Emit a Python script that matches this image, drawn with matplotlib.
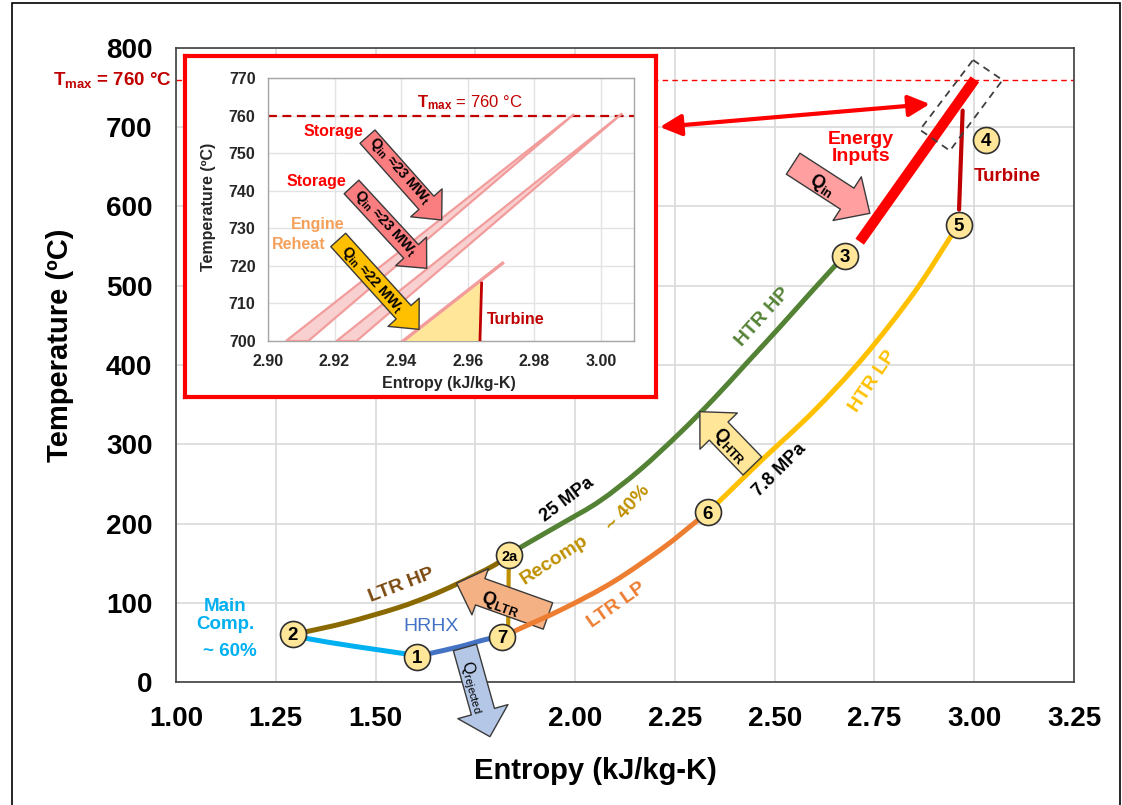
import numpy as np
import matplotlib
matplotlib.use("Agg")
import matplotlib.pyplot as plt
from matplotlib.patches import FancyArrowPatch, Polygon, ArrowStyle, Rectangle, PathPatch
from matplotlib.path import Path
from matplotlib.transforms import blended_transform_factory

plt.rcParams['font.family'] = ['Liberation Sans', 'DejaVu Sans']
plt.rcParams['mathtext.fontset'] = 'custom'
plt.rcParams['mathtext.rm'] = 'Liberation Sans'
plt.rcParams['mathtext.it'] = 'Liberation Sans:italic'
plt.rcParams['mathtext.bf'] = 'Liberation Sans:bold'

W, H, DPI = 1122, 805, 100
PX = 72.0 / DPI  # points per pixel

# ---------------- cycle data: entropy (kJ/kg-K), temperature (°C) ----------------
state_labels = ['1', '2', '2a', '3', '4', '5', '6', '7']
state_s = [1.603, 1.292, 1.835, 2.675, 3.029, 2.962, 2.333, 1.818]
state_T = [32, 61, 160, 538, 684, 577, 214.5, 57]

main_comp_s = [1.292, 1.327, 1.452, 1.569, 1.603]
main_comp_T = [60.6, 55.0, 44.6, 36.0, 32.0]

hrhx_s = [1.603, 1.636, 1.711, 1.778, 1.818]
hrhx_T = [32.0, 36.0, 44.6, 53.9, 57.0]

ltr_hp_s = [1.292, 1.328, 1.428, 1.554, 1.636, 1.704, 1.794, 1.834]
ltr_hp_T = [60.6, 63.7, 75.1, 93.4, 108.5, 123.7, 146.4, 160.3]

recomp_s = [1.832, 1.834]
recomp_T = [56.4, 160.0]

htr_hp_s = [1.834, 1.869, 1.969, 2.062, 2.162, 2.2625, 2.347, 2.430, 2.513, 2.596, 2.676]
htr_hp_T = [160.3, 171.6, 200.6, 228.4, 267.5, 314.2, 357.1, 402.5, 447.9, 494.6, 538.8]

ltr_lp_s = [1.819, 1.854, 1.969, 2.095, 2.220, 2.305, 2.333]
ltr_lp_T = [56.8, 65.6, 92.1, 126.2, 169.1, 203.2, 214.5]

htr_lp_s = [2.333, 2.375, 2.4705, 2.596, 2.721, 2.847, 2.939, 2.961]
htr_lp_T = [214.5, 234.7, 281.4, 340.7, 408.8, 489.6, 560.3, 576.7]

heat_in_s = [2.713, 3.0015]
heat_in_T = [555.6, 760.5]

turbine_s = [2.971, 2.962]
turbine_T = [721.0, 596.0]

T_max = 760

# ---------------- inset (zoom near T_max) ----------------
storage1_s = [2.9054, 2.9920, 2.9121]
storage1_T = [700, 760.4, 700]
storage2_s = [2.9206, 3.0065, 2.9266]
storage2_T = [700, 760.6, 700]
reheat_line_s = [2.9406, 2.9705]
reheat_line_T = [700, 720.7]
reheat_fill_s = [2.9406, 2.9641, 2.9637]
reheat_fill_T = [700, 715.8, 700]
inset_turb_s = [2.9642, 2.9637]
inset_turb_T = [715.4, 700]

x_ticks = [1.00, 1.25, 1.50, 1.75, 2.00, 2.25, 2.50, 2.75, 3.00, 3.25]
x_tick_labels = ['1.00', '1.25', '1.50', '', '2.00', '2.25', '2.50', '2.75', '3.00', '3.25']
y_ticks = [0, 100, 200, 300, 400, 500, 600, 700, 800]
inset_x_ticks = [2.90, 2.92, 2.94, 2.96, 2.98, 3.00]
inset_y_ticks = [700, 710, 720, 730, 740, 750, 760, 770]

# colours
C_MAIN = '#00B0F0'
C_HRHX = '#4472C4'
C_LTRHP = '#8A6A00'
C_RECOMP = '#BF9000'
C_HTRHP = '#548235'
C_LTRLP = '#ED7D31'
C_HTRLP = '#FFC000'
C_RED = '#FF0000'
C_DARKRED = '#C00000'
C_STATE = '#FFE699'

fig = plt.figure(figsize=(W / DPI, H / DPI), dpi=DPI)
fig.patch.set_facecolor('white')


def fig_box(x0, y0, x1, y1):
    return [x0 / W, 1 - y1 / H, (x1 - x0) / W, (y1 - y0) / H]


def smooth_curve(axis, xs, ys, color, lw, z):
    """Draw a smoothed line (cubic Bezier segments) through the given points."""
    pts = np.column_stack([xs, ys]).astype(float)
    ext = np.vstack([pts[0], pts, pts[-1]])
    verts = [tuple(pts[0])]
    codes = [Path.MOVETO]
    for i in range(len(pts) - 1):
        p0, p1, p2, p3 = ext[i], ext[i + 1], ext[i + 2], ext[i + 3]
        c1 = p1 + (p2 - p0) / 6.0
        c2 = p2 - (p3 - p1) / 6.0
        verts += [tuple(c1), tuple(c2), tuple(p2)]
        codes += [Path.CURVE4] * 3
    axis.add_patch(PathPatch(Path(verts, codes), fill=False, ec=color, lw=lw,
                             capstyle='round', joinstyle='round', zorder=z))


ax = fig.add_axes(fig_box(176, 48, 1074, 682))
ax.set_xlim(1.0, 3.25)
ax.set_ylim(0, 800)
ax.set_xticks(x_ticks)
ax.set_xticklabels(x_tick_labels)
ax.set_yticks(y_ticks)
ax.set_yticklabels([str(v) for v in y_ticks])
ax.tick_params(length=0, labelsize=20, pad=17)
for lab in ax.get_xticklabels() + ax.get_yticklabels():
    lab.set_fontweight('bold')
ax.grid(True, color='#D9D9D9', lw=1.2)
ax.set_axisbelow(True)
for sp in ax.spines.values():
    sp.set_color('#404040')
    sp.set_linewidth(1.2)

fig.text(60 / W, 1 - 345 / H, 'Temperature (ºC)', rotation=90, ha='center', va='center',
         fontsize=21, fontweight='bold')
fig.text(595 / W, 1 - 771 / H, 'Entropy (kJ/kg-K)', ha='center', va='center',
         fontsize=21, fontweight='bold')

# T_max line and its label
ax.axhline(T_max, color=C_RED, lw=1.0, ls=(0, (4, 3)), zorder=2)
ax.text(-0.005, T_max, r'$\mathbf{T_{max}}$ = 760 °C',
        transform=blended_transform_factory(ax.transAxes, ax.transData),
        ha='right', va='center', fontsize=13.5, fontweight='bold', color=C_DARKRED)

# process curves
lw = 3.6
smooth_curve(ax, main_comp_s, main_comp_T, C_MAIN, lw, 3)
smooth_curve(ax, hrhx_s, hrhx_T, C_HRHX, lw, 3)
smooth_curve(ax, ltr_hp_s, ltr_hp_T, C_LTRHP, lw, 3)
ax.plot(recomp_s, recomp_T, color=C_RECOMP, lw=3.0, zorder=3)
smooth_curve(ax, htr_hp_s, htr_hp_T, C_HTRHP, lw, 3)
smooth_curve(ax, htr_lp_s, htr_lp_T, C_HTRLP, lw, 3)
smooth_curve(ax, ltr_lp_s, ltr_lp_T, C_LTRLP, lw, 5)
ax.plot(heat_in_s, heat_in_T, color=C_RED, lw=7.5, solid_capstyle='butt', zorder=4)
ax.plot(turbine_s, turbine_T, color=C_DARKRED, lw=3.0, solid_capstyle='round', zorder=4)

# dashed outline around the high-temperature end
box_s = [2.997, 3.071, 2.939, 2.864]
box_T = [784.9, 759.6, 670.4, 696.8]
ax.add_patch(Polygon(list(zip(box_s, box_T)), closed=True, fill=False, ec='#404040',
                     lw=1.3, ls=(0, (4, 3)), zorder=6, clip_on=False))


def block_arrow(axis, tail, tip, tail_w, head_w, head_len, fc, z=5, clip=True):
    style = ArrowStyle.Simple(head_length=head_len * PX, head_width=head_w * PX,
                              tail_width=tail_w * PX)
    arr = FancyArrowPatch(tail, tip, arrowstyle=style, mutation_scale=1, fc=fc,
                          ec='#3A3A3A', lw=1.0, shrinkA=0, shrinkB=0, zorder=z)
    arr.set_clip_on(clip)
    axis.add_patch(arr)
    return arr


def angle_of(axis, p0, p1):
    a, b = axis.transData.transform([p0, p1])
    ang = np.degrees(np.arctan2(b[1] - a[1], b[0] - a[0]))
    if ang > 90:
        ang -= 180
    elif ang < -90:
        ang += 180
    return ang


# heat-flow arrows on the main diagram
arrows_main = [
    # tail, tip, tail width, head width, head length, colour, text, text pos, text size
    ((2.5463, 654.0), (2.7385, 591.4), 25, 52, 27, '#FF9F9F', r'$\mathbf{Q_{in}}$', (2.618, 627), 13),
    ((2.4442, 272.6), (2.3126, 341.1), 26, 52, 27, '#FFE699', r'$\mathbf{Q_{HTR}}$', (2.388, 298), 13),
    ((1.9319, 83.3), (1.7032, 124.5), 28, 49, 25, '#F4B183', r'$\mathbf{Q_{LTR}}$', (1.812, 99), 13),
    ((1.7239, 43.5), (1.7866, -69.0), 24, 52, 26, '#B4C7E7', r'$\mathrm{Q_{rejected}}$', (1.741, -6), 11.5),
]
for tail, tip, tw, hw, hl, fc, txt, tpos, tsz in arrows_main:
    block_arrow(ax, tail, tip, tw, hw, hl, fc, z=4.5, clip=False)
    ax.text(tpos[0], tpos[1], txt, rotation=angle_of(ax, tail, tip), ha='center', va='center',
            fontsize=tsz, color='black', zorder=7, clip_on=False)

# double arrow linking the inset to the dashed outline
ax.add_patch(FancyArrowPatch((2.2124, 700.3), (2.8888, 729.3),
                             arrowstyle=ArrowStyle('<|-|>', head_length=1.0, head_width=0.5),
                             mutation_scale=13, color=C_RED, lw=3.0, shrinkA=0, shrinkB=0, zorder=6))

# state points
ax.scatter(state_s, state_T, s=(26 * PX) ** 2, c=C_STATE, edgecolors='#303030',
           linewidths=1.2, zorder=8)
for lab, s, t in zip(state_labels, state_s, state_T):
    ax.text(s, t, lab, ha='center', va='center_baseline', fontsize=10.5 if lab == '2a' else 13.5,
            fontweight='bold', color='black', zorder=9)

# curve labels
labels_main = [
    ('Energy\nInputs', 2.716, 674, 0, C_RED, 14, 'bold'),
    ('Turbine', 3.082, 638, 0, C_DARKRED, 13.5, 'bold'),
    ('HTR HP', 2.471, 461, 48, C_HTRHP, 14, 'bold'),
    ('HTR LP', 2.747, 379, 56, C_HTRLP, 14, 'bold'),
    ('7.8 MPa', 2.513, 267, 45, 'black', 13, 'bold'),
    ('25 MPa', 1.979, 230, 37, 'black', 13, 'bold'),
    ('Recomp', 1.949, 154, 33, C_RECOMP, 14, 'bold'),
    ('~ 40%', 2.133, 219, 48, C_RECOMP, 14, 'bold'),
    ('LTR LP', 2.104, 97, 35, C_LTRLP, 14, 'bold'),
    ('LTR HP', 1.565, 122, 21, '#7A4A10', 14, 'bold'),
    ('HRHX', 1.640, 70, 0, C_HRHX, 14, 'normal'),
    ('Main\nComp.', 1.123, 84, 0, C_MAIN, 13.5, 'bold'),
    ('~ 60%', 1.135, 38, 0, C_MAIN, 13.5, 'bold'),
]
for txt, s, t, rot, col, sz, wt in labels_main:
    ax.text(s, t, txt, rotation=rot, ha='center', va='center', color=col, fontsize=sz,
            fontweight=wt, zorder=7, linespacing=1.05, rotation_mode='anchor')

# ---------------- inset ----------------
frame = fig.add_axes(fig_box(185, 56, 656, 397))
frame.set_xticks([])
frame.set_yticks([])
frame.set_facecolor('white')
for sp in frame.spines.values():
    sp.set_color(C_RED)
    sp.set_linewidth(3.0)
frame.set_zorder(10)

ins = fig.add_axes(fig_box(268, 78, 634, 341))
ins.set_zorder(11)
ins.set_xlim(2.90, 3.01)
ins.set_ylim(700, 770)
ins.set_xticks(inset_x_ticks)
ins.set_xticklabels([f'{v:.2f}' for v in inset_x_ticks])
ins.set_yticks(inset_y_ticks)
ins.set_yticklabels([str(v) for v in inset_y_ticks])
ins.tick_params(length=0, labelsize=11.5, pad=9, colors='#262626')
for lab in ins.get_xticklabels() + ins.get_yticklabels():
    lab.set_fontweight('bold')
ins.grid(True, color='#E3E3E3', lw=1.0)
ins.set_axisbelow(True)
for sp in ins.spines.values():
    sp.set_color('#A6A6A6')
    sp.set_linewidth(1.0)
fig.text(209 / W, 1 - 207 / H, 'Temperature (ºC)', rotation=90, ha='center', va='center',
         fontsize=11.5, fontweight='bold', color='#262626', zorder=12)
fig.text(449 / W, 1 - 383 / H, 'Entropy (kJ/kg-K)', ha='center', va='center',
         fontsize=11.5, fontweight='bold', color='#262626', zorder=12)

ins.axhline(T_max, color=C_DARKRED, lw=1.6, ls=(0, (4, 2.5)), zorder=2)
ins.text(2.9607, 763.4, r'$\mathbf{T_{max}}$ = 760 °C', ha='center', va='center',
         fontsize=12, color=C_DARKRED)

band_fc, band_ec = '#F9D0D0', '#F29C9C'
ins.fill(storage1_s, storage1_T, fc=band_fc, ec=band_ec, lw=1.6, zorder=3)
ins.fill(storage2_s, storage2_T, fc=band_fc, ec=band_ec, lw=1.6, zorder=3)
ins.fill(reheat_fill_s, reheat_fill_T, fc='#FFE699', ec='none', zorder=3)
ins.plot(reheat_line_s, reheat_line_T, color=band_ec, lw=2.4, zorder=4)
ins.plot(inset_turb_s, inset_turb_T, color=C_DARKRED, lw=2.0, zorder=4)

arrows_inset = [
    ((2.9299, 754.4), (2.9522, 732.2), '#FA7D80', (2.9396, 745.1)),
    ((2.9251, 741.0), (2.9477, 719.35), '#FA7D80', (2.9351, 731.3)),
    ((2.9211, 726.9), (2.9454, 703.1), '#FFC000', (2.9311, 716.2)),
]
inset_labels = [r'$\mathbf{Q_{in}}$ ≈23 MW$\mathbf{_t}$',
                r'$\mathbf{Q_{in}}$ ≈23 MW$\mathbf{_t}$',
                r'$\mathbf{Q_{in}}$ ≈22 MW$\mathbf{_t}$']
for (tail, tip, fc, tpos), txt in zip(arrows_inset, inset_labels):
    block_arrow(ins, tail, tip, 20, 42, 23, fc, z=5, clip=False)
    ins.text(tpos[0], tpos[1], txt, rotation=angle_of(ins, tail, tip), ha='center', va='center',
             fontsize=10.5, fontweight='bold', color='black', zorder=6, rotation_mode='anchor')

inset_text = [
    ('Storage', 2.9196, 755.7, C_RED),
    ('Storage', 2.9146, 742.4, C_RED),
    ('Engine', 2.9148, 730.9, '#F4A05A'),
    ('Reheat', 2.9093, 725.8, '#F4A05A'),
    ('Turbine', 2.9745, 705.6, C_DARKRED),
]
for txt, s, t, col in inset_text:
    ins.text(s, t, txt, ha='center', va='center', fontsize=11.5, fontweight='bold', color=col,
             zorder=6)

# outer frame
fig.add_artist(Rectangle((12 / W, -0.01), (1120 - 12) / W, 1.01 - 3 / H, transform=fig.transFigure,
                         fill=False, ec='black', lw=1.2))

fig.savefig('out.png', dpi=DPI)
